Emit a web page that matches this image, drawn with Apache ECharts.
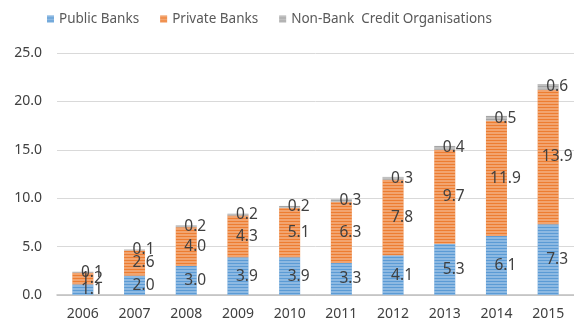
<!DOCTYPE html>
<html>
<head>
<meta charset="utf-8">
<script src="https://cdn.jsdelivr.net/npm/echarts@6/dist/echarts.min.js"></script>
<style>html,body{margin:0;padding:0;background:#fff}#c{width:574px;height:331px}</style>
</head>
<body>
<div id="c"></div>
<script>
const categories = ['2006','2007','2008','2009','2010','2011','2012','2013','2014','2015'];
const publicBanks = [1.1, 2.0, 3.0, 3.9, 3.9, 3.3, 4.1, 5.3, 6.1, 7.3];
const privateBanks = [1.2, 2.6, 4.0, 4.3, 5.1, 6.3, 7.8, 9.7, 11.9, 13.9];
const nonBank = [0.1, 0.1, 0.2, 0.2, 0.2, 0.3, 0.3, 0.4, 0.5, 0.6];
const yTicks = [0, 5, 10, 15, 20, 25];

const font = 'Noto Sans';
const stripe = {symbol:'rect', symbolSize:1, dashArrayX:[[1,0]], dashArrayY:[2,1], color:'rgba(255,255,255,0.3)', rotation:0};
function mk(name, data, color){
  return {
    name, type:'bar', stack:'t', data, barWidth:21,
    itemStyle:{color, decal:stripe},
    label:{show:true, position:'inside', offset:[9,0], color:'#404040', fontFamily:font, fontSize:15.5,
      formatter:p=>p.value.toFixed(1)}
  };
}
const chart = echarts.init(document.getElementById('c'), null, {renderer:'canvas'});
chart.setOption({
  animation:false,
  aria:{decal:{show:true}},
  legend:{top:7, left:42, itemWidth:7, itemHeight:7, itemGap:21, icon:'rect',
    textStyle:{fontFamily:font, fontSize:13.5, color:'#595959'},
    data:['Public Banks','Private Banks','Non-Bank  Credit Organisations']},
  grid:{left:57, right:-2, top:53, bottom:36},
  xAxis:{type:'category', data:categories,
    axisLine:{lineStyle:{color:'#bfbfbf', width:1.5}}, axisTick:{show:false},
    axisLabel:{fontFamily:font, fontSize:14, color:'#404040', margin:12}},
  yAxis:{type:'value', min:yTicks[0], max:yTicks[yTicks.length-1], interval:5,
    axisLine:{show:false}, axisTick:{show:false},
    splitLine:{lineStyle:{color:'#d9d9d9'}},
    axisLabel:{fontFamily:font, fontSize:14, color:'#404040', margin:15, formatter:v=>v.toFixed(1)}},
  series:[
    mk('Public Banks', publicBanks, '#5B9BD5'),
    mk('Private Banks', privateBanks, '#ED7D31'),
    mk('Non-Bank  Credit Organisations', nonBank, '#A5A5A5')
  ]
});
</script>
</body>
</html>
